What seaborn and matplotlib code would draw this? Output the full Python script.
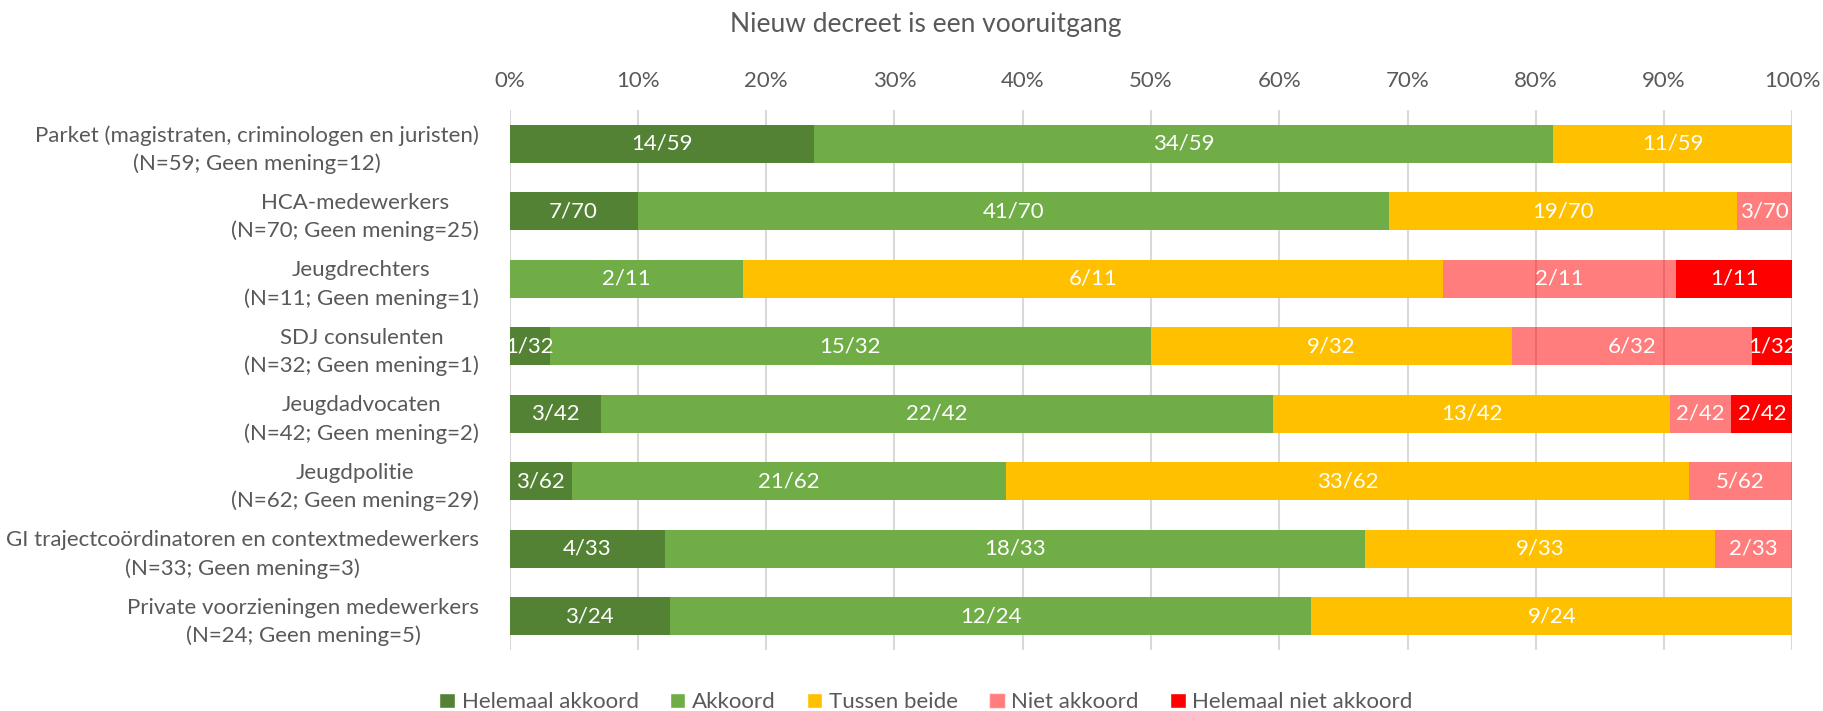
import numpy as np
import pandas as pd
import matplotlib
matplotlib.use("Agg")
import matplotlib.pyplot as plt
import seaborn as sns
from matplotlib.patches import Patch

groups = ["Parket (magistraten, criminologen en juristen)", "HCA-medewerkers", "Jeugdrechters",
          "SDJ consulenten", "Jeugdadvocaten", "Jeugdpolitie",
          "GI trajectcoördinatoren en contextmedewerkers", "Private voorzieningen medewerkers"]
geen_mening = [12, 25, 1, 1, 2, 29, 3, 5]
answers = ["Helemaal akkoord", "Akkoord", "Tussen beide", "Niet akkoord", "Helemaal niet akkoord"]
helemaal_akkoord = [14, 7, 0, 1, 3, 3, 4, 3]
akkoord = [34, 41, 2, 15, 22, 21, 18, 12]
tussen_beide = [11, 19, 6, 9, 13, 33, 9, 9]
niet_akkoord = [0, 3, 2, 6, 2, 5, 2, 0]
helemaal_niet = [0, 0, 1, 1, 2, 0, 0, 0]
colors = ["#548235", "#70AD47", "#FFC000", "#FF0000", "#FF0000"]
alphas = [1, 1, 1, 0.51, 1]

counts = np.array([helemaal_akkoord, akkoord, tussen_beide, niet_akkoord, helemaal_niet])
totals = counts.sum(axis=0)
labels = [f"{g}\n(N={n}; Geen mening={m})" for g, n, m in zip(groups, totals, geen_mening)]

sns.set_theme(style="white")
plt.rcParams["font.family"] = ["Lato", "DejaVu Sans"]
grey = "#595959"

fig = plt.figure(figsize=(18.23, 7.11), dpi=100)
ax = fig.add_axes([0.2795, 0.0858, 0.7037, 0.7595])

left = np.zeros(len(groups))
for i, ans in enumerate(answers):
    share = counts[i] / totals
    df = pd.DataFrame({"group": labels, "share": share})
    sns.barplot(data=df, x="share", y="group", orient="h", color=colors[i], alpha=alphas[i],
                left=left, width=0.57, saturation=1, linewidth=0, ax=ax, zorder=3)
    for j in range(len(groups)):
        if counts[i, j] > 0:
            ax.text(left[j] + share[j] / 2, j, f"{counts[i, j]}/{totals[j]}", ha="center", va="center",
                    color="white", fontsize=16, zorder=5)
    left = left + share

ax.set_xlim(0, 1)
ax.set_ylim(7.5, -0.5)
ax.set_xticks(np.arange(0, 1.01, 0.1))
ax.set_xticklabels([f"{int(round(t * 100))}%" for t in np.arange(0, 1.01, 0.1)])
ax.set_yticks(range(len(groups)))
ax.set_yticklabels(labels, linespacing=1.45, multialignment="center")
ax.xaxis.tick_top()
ax.tick_params(axis="x", length=0, pad=14, labelsize=16, labelcolor=grey)
ax.tick_params(axis="y", length=0, pad=22, labelsize=16, labelcolor=grey)
ax.set_xlabel("")
ax.set_ylabel("")
ax.grid(axis="x", color="#D9D9D9", linewidth=1.5, zorder=0)
ax.set_axisbelow(True)
for s in ax.spines.values():
    s.set_visible(False)

fig.text(0.508, 0.966, "Nieuw decreet is een vooruitgang", ha="center", va="center",
         fontsize=19, color=grey)

handles = [Patch(facecolor=c, alpha=a, label=l) for c, a, l in zip(colors, alphas, answers)]
fig.legend(handles=handles, loc="center", bbox_to_anchor=(0.508, 0.012), ncol=5, frameon=False,
           fontsize=16, labelcolor=grey, handlelength=0.7, handleheight=0.7, handletextpad=0.3,
           columnspacing=1.4)

fig.savefig("out.png", dpi=100)
